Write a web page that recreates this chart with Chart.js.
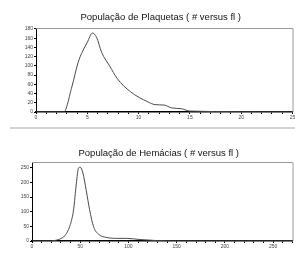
<!DOCTYPE html>
<html>
<head>
<meta charset="utf-8">
<script src="https://cdn.jsdelivr.net/npm/chart.js@4.4.0/dist/chart.umd.min.js"></script>
<style>
  body { margin: 0; background: #fff; width: 295px; height: 259px; overflow: hidden; position: relative; }
  #plt { position: absolute; left: 0; top: 0; }
  #rbc { position: absolute; left: 0; top: 130px; }
  #sep { position: absolute; left: 10px; top: 127px; width: 285px; height: 2px; background: #d4d4d4; }
</style>
</head>
<body>
<canvas id="plt" width="295" height="127"></canvas>
<div id="sep"></div>
<canvas id="rbc" width="295" height="129"></canvas>
<script>
// Plaquetas histogram (fl, count)
const pltVolume = [0, 2.7, 3.5, 4.1, 4.55, 5.0, 5.5, 5.9, 6.4, 7.2, 7.9, 9.2, 10.9, 11.6, 12.5, 13.2, 14.2, 15.0, 25];
const pltCount  = [0, 0, 55, 107, 132, 151, 171, 162, 129, 99, 73, 44, 22, 16, 15, 9, 7, 2, 0];

// Hemácias histogram (fl, count)
const rbcVolume = [0, 19, 22, 27.5, 34.5, 39.7, 43.1, 45.9, 48.3, 50, 52.8, 56.2, 59.7, 63.8, 69, 77.6, 88, 98, 112, 129, 150, 270];
const rbcCount  = [0, 0, 1, 5, 20, 56, 107, 195, 250, 252, 232, 173, 107, 49, 23, 12, 9, 9, 5, 1.5, 0, 0];

const tickFont = { family: 'Liberation Sans, Arial', size: 5 };
const titleFont = { family: 'Liberation Sans, Arial', size: 9.5, weight: 'normal' };

// thin gray frame on top and right of the plot, title centred a bit left of the plot centre
const frame = {
  id: 'frame',
  afterLayout(chart) {
    chart.titleBlock.left = chart.chartArea.left - 7;
    chart.titleBlock.right = chart.chartArea.right;
  },
  afterDraw(chart) {
    const a = chart.chartArea, c = chart.ctx;
    c.save();
    c.strokeStyle = '#9a9a9a';
    c.lineWidth = 1;
    c.beginPath();
    c.moveTo(a.left, a.top + 0.5);
    c.lineTo(a.right + 0.5, a.top + 0.5);
    c.lineTo(a.right + 0.5, a.bottom);
    c.stroke();
    c.restore();
  }
};

function makeChart(id, xs, ys, opt) {
  return new Chart(document.getElementById(id), {
    type: 'line',
    data: {
      datasets: [{
        data: xs.map((x, i) => ({ x: x, y: ys[i] })),
        borderColor: '#4a4a4a',
        borderWidth: 1,
        pointRadius: 0,
        cubicInterpolationMode: 'monotone',
        fill: false
      }]
    },
    options: {
      responsive: false,
      animation: false,
      layout: { padding: { left: 0, right: 2.5, top: 0, bottom: 0 } },
      plugins: {
        legend: { display: false },
        tooltip: { enabled: false },
        title: {
          display: true,
          text: opt.title,
          color: '#111',
          font: titleFont,
          padding: opt.titlePad
        }
      },
      scales: {
        x: {
          type: 'linear',
          min: 0, max: opt.xMax,
          afterFit: s => { s.height = opt.xH; s.paddingRight = 0; s.paddingLeft = 0; },
          afterBuildTicks: s => {
            s.ticks = [];
            for (let v = 0; v <= opt.xMax; v += opt.xMinor) s.ticks.push({ value: v });
          },
          ticks: {
            autoSkip: false, maxRotation: 0, padding: 1,
            color: '#444', font: tickFont,
            callback: v => (v % opt.xMajor === 0 ? v : '')
          },
          grid: { drawOnChartArea: false, tickLength: 2, color: '#000' },
          border: { color: '#000', width: 1.5 }
        },
        y: {
          min: 0, max: opt.yMax,
          afterFit: s => { s.width = opt.yW; s.paddingTop = 0; s.paddingBottom = 0; },
          afterBuildTicks: s => {
            s.ticks = [];
            for (let v = 0; v <= opt.yMax; v += opt.yStep) s.ticks.push({ value: v });
          },
          ticks: { color: '#444', font: tickFont, padding: 1 },
          grid: { drawOnChartArea: false, tickLength: 2, color: '#000' },
          border: { color: '#000', width: 1 }
        }
      }
    },
    plugins: [frame]
  });
}

makeChart('plt', pltVolume, pltCount, {
  title: 'População de Plaquetas ( # versus fl )',
  titlePad: { top: 12, bottom: 4.6 },
  xMax: 25, xMinor: 1, xMajor: 5, xH: 15,
  yMax: 182, yStep: 20, yW: 36
});

makeChart('rbc', rbcVolume, rbcCount, {
  title: 'População de Hemácias ( # versus fl )',
  titlePad: { top: 18, bottom: 2.6 },
  xMax: 270, xMinor: 10, xMajor: 50, xH: 18,
  yMax: 270, yStep: 50, yW: 32
});
</script>
</body>
</html>
